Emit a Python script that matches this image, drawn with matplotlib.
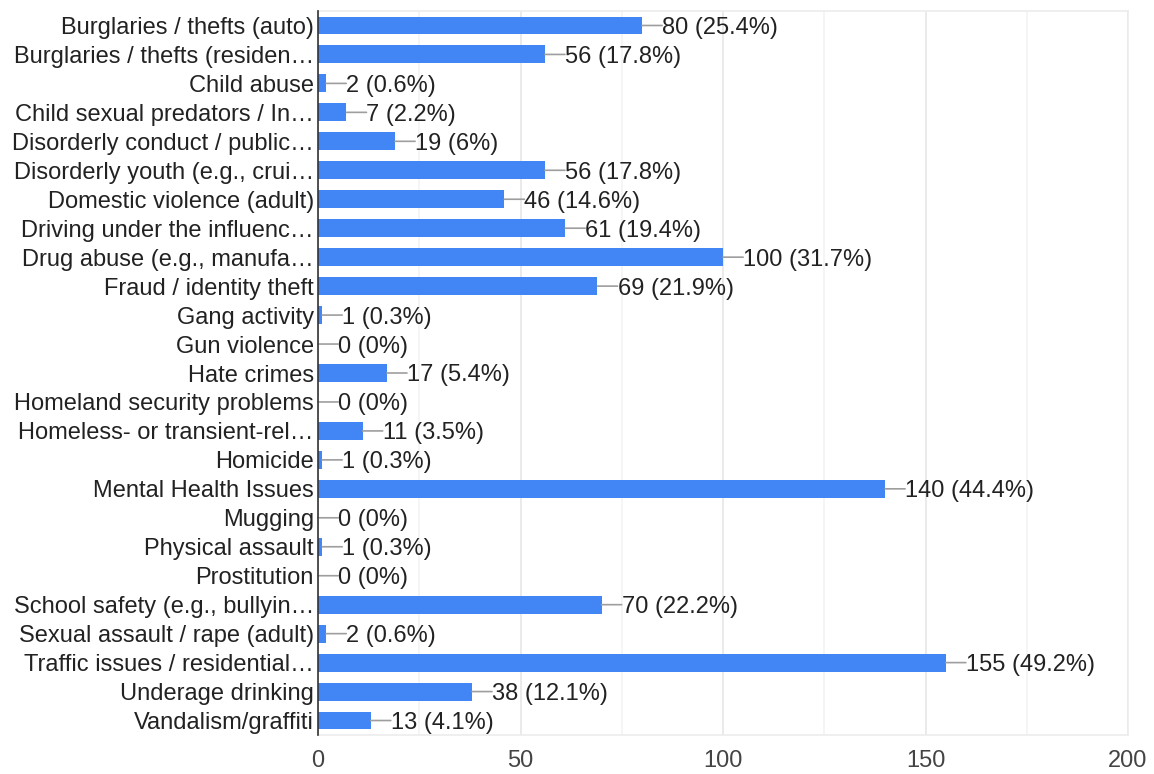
import matplotlib.pyplot as plt
from matplotlib.ticker import MultipleLocator

categories = [
    "Burglaries / thefts (auto)",
    "Burglaries / thefts (residen\u2026",
    "Child abuse",
    "Child sexual predators / In\u2026",
    "Disorderly conduct / public\u2026",
    "Disorderly youth (e.g., crui\u2026",
    "Domestic violence (adult)",
    "Driving under the influenc\u2026",
    "Drug abuse (e.g., manufa\u2026",
    "Fraud / identity theft",
    "Gang activity",
    "Gun violence",
    "Hate crimes",
    "Homeland security problems",
    "Homeless- or transient-rel\u2026",
    "Homicide",
    "Mental Health Issues",
    "Mugging",
    "Physical assault",
    "Prostitution",
    "School safety (e.g., bullyin\u2026",
    "Sexual assault / rape (adult)",
    "Traffic issues / residential\u2026",
    "Underage drinking",
    "Vandalism/graffiti",
]
counts = [80, 56, 2, 7, 19, 56, 46, 61, 100, 69, 1, 0, 17, 0, 11, 1, 140, 0, 1, 0, 70, 2, 155, 38, 13]
percents = ["25.4", "17.8", "0.6", "2.2", "6", "17.8", "14.6", "19.4", "31.7", "21.9",
            "0.3", "0", "5.4", "0", "3.5", "0.3", "44.4", "0", "0.3", "0",
            "22.2", "0.6", "49.2", "12.1", "4.1"]

plt.rcParams['font.family'] = ['Liberation Sans', 'DejaVu Sans']
FS = 17

fig = plt.figure(figsize=(11.54, 7.74), dpi=100)
ax = fig.add_axes([318 / 1154, 1 - 735 / 774, (1128 - 318) / 1154, (735 - 11) / 774])

ypos = list(range(len(categories)))
ax.barh(ypos, counts, height=0.62, color="#4285f4", zorder=3)

for y, c, p in zip(ypos, counts, percents):
    ax.annotate("", xy=(c, y), xytext=(14.5, 0), textcoords="offset points",
                xycoords="data", arrowprops=dict(arrowstyle="-", color="#9e9e9e", lw=1.2,
                                                 shrinkA=0, shrinkB=0), zorder=4)
    ax.annotate(f"{c} ({p}%)", xy=(c, y), xytext=(14.5, 0), textcoords="offset points",
                va="center_baseline", ha="left", fontsize=FS, color="#222222", zorder=5)

ax.set_xlim(0, 200)
ax.set_ylim(len(categories) - 0.5, -0.5)
ax.set_yticks(ypos)
ax.set_yticklabels(categories, fontsize=FS, color="#222222", va="center_baseline")
ax.xaxis.set_major_locator(MultipleLocator(50))
ax.xaxis.set_minor_locator(MultipleLocator(25))
ax.tick_params(axis="x", which="both", length=0, labelsize=FS, labelcolor="#444444", pad=11)
ax.tick_params(axis="y", length=0, pad=3)
ax.grid(True, axis="x", which="major", color="#e6e6e6", lw=1.2, zorder=0)
ax.grid(True, axis="x", which="minor", color="#f3f3f3", lw=1.2, zorder=0)

for side in ["top", "bottom", "right"]:
    ax.spines[side].set_color("#ececec")
    ax.spines[side].set_linewidth(1.2)
ax.spines["left"].set_color("#333333")
ax.spines["left"].set_linewidth(1.2)
ax.spines["left"].set_zorder(6)

fig.savefig("out.png", dpi=100, facecolor="white")
